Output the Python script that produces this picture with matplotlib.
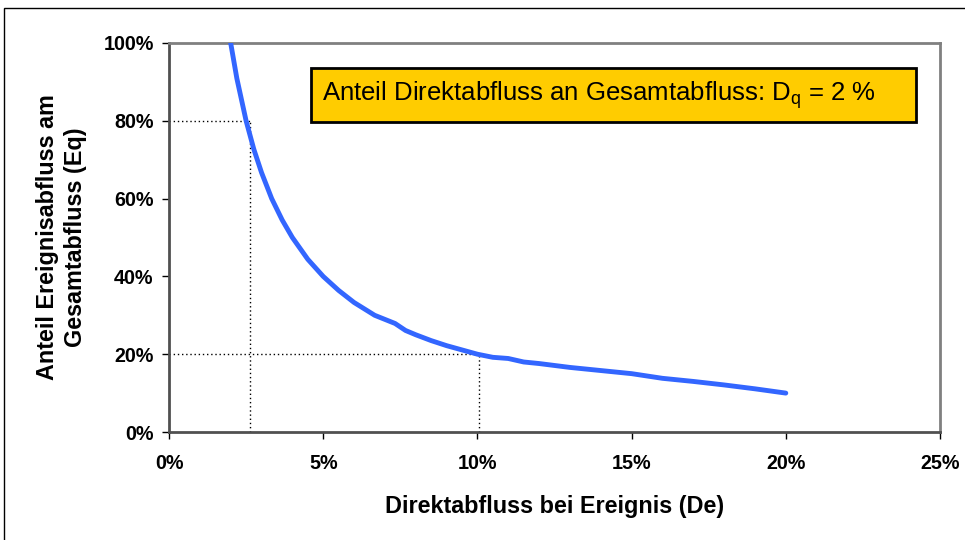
import matplotlib
matplotlib.use("Agg")
import matplotlib.pyplot as plt
from matplotlib.patches import Rectangle
from matplotlib.ticker import FuncFormatter

plt.rcParams['font.family'] = ['Liberation Sans', 'DejaVu Sans']

# Direct runoff share during the event (De, %) vs. event runoff share (Eq, %)
de_pct = [2.0, 2.2, 2.5, 2.75, 3.0, 3.33, 3.67, 4.0, 4.5, 5.0, 5.5, 6.0,
          6.67, 7.33, 7.67, 8.0, 8.5, 9.0, 9.5, 10.0, 10.5, 11.0, 11.5,
          12.0, 13.0, 14.0, 15.0, 16.0, 17.0, 18.0, 19.0, 20.0]
eq_pct = [100.0, 90.9, 80.0, 72.7, 66.7, 60.0, 54.5, 50.0, 44.4, 40.0, 36.4,
          33.3, 30.0, 27.9, 26.1, 25.0, 23.5, 22.2, 21.1, 20.0, 19.2, 18.9,
          18.0, 17.6, 16.6, 15.8, 15.0, 13.8, 13.0, 12.1, 11.1, 10.0]

# Reading guides (De, Eq)
guide_points = [(2.63, 80.0), (10.05, 20.0)]

x_ticks = [0, 5, 10, 15, 20, 25]
y_ticks = [0, 20, 40, 60, 80, 100]
box_text = "Anteil Direktabfluss an Gesamtabfluss: D$_\\mathregular{q}$ = 2 %"

W, H = 965, 540
fig = plt.figure(figsize=(W / 100, H / 100), dpi=100)
fig.patch.set_facecolor('white')

# Outer frame
fig.patches.append(Rectangle((4 / W, -0.1), 1.2, 1 - 8 / H + 0.1,
                             transform=fig.transFigure, fill=False,
                             edgecolor='black', linewidth=1.0))

left, right, top, bottom = 169, 940, 43, 432
ax = fig.add_axes([left / W, 1 - bottom / H, (right - left) / W, (bottom - top) / H])

ax.plot(de_pct, eq_pct, color='#3366FF', linewidth=3.5, solid_capstyle='round', zorder=3)

for gx, gy in guide_points:
    ax.plot([0, gx], [gy, gy], color='black', linestyle=(0, (1, 2)), linewidth=1.0, zorder=2)
    ax.plot([gx, gx], [0, gy], color='black', linestyle=(0, (1, 2)), linewidth=1.0, zorder=2)

ax.set_xlim(0, 25)
ax.set_ylim(0, 100)
ax.set_xticks(x_ticks)
ax.set_yticks(y_ticks)
ax.xaxis.set_major_formatter(FuncFormatter(lambda v, p: f"{v:.0f}%"))
ax.yaxis.set_major_formatter(FuncFormatter(lambda v, p: f"{v:.0f}%"))

for s in ['top', 'right']:
    ax.spines[s].set_color('#808080')
    ax.spines[s].set_linewidth(2.0)
for s in ['left', 'bottom']:
    ax.spines[s].set_color('#505050')
    ax.spines[s].set_linewidth(2.0)

ax.tick_params(direction='out', length=5, width=1.0, color='black',
               labelsize=14.2, pad=6)
for lab in ax.get_xticklabels() + ax.get_yticklabels():
    lab.set_fontweight('bold')
ax.tick_params(axis='x', pad=11)

ax.set_xlabel("Direktabfluss bei Ereignis (De)", fontsize=16.8, fontweight='bold', labelpad=16)
ax.set_ylabel("Anteil Ereignisabfluss am\nGesamtabfluss (Eq)", fontsize=16.8,
              fontweight='bold', labelpad=12, linespacing=1.25)

# Annotation box
bx0, bx1 = (311 - left) / (right - left), (916 - left) / (right - left)
by1, by0 = 1 - (68 - top) / (bottom - top), 1 - (122 - top) / (bottom - top)
ax.add_patch(Rectangle((bx0, by0), bx1 - bx0, by1 - by0, transform=ax.transAxes,
                       facecolor='#FFCC00', edgecolor='black', linewidth=2.0, zorder=4))
ax.text(bx0 + 0.014, (by0 + by1) / 2, box_text, transform=ax.transAxes,
        fontsize=18.5, va='center', ha='left', zorder=5)

fig.savefig('out.png', dpi=100)
